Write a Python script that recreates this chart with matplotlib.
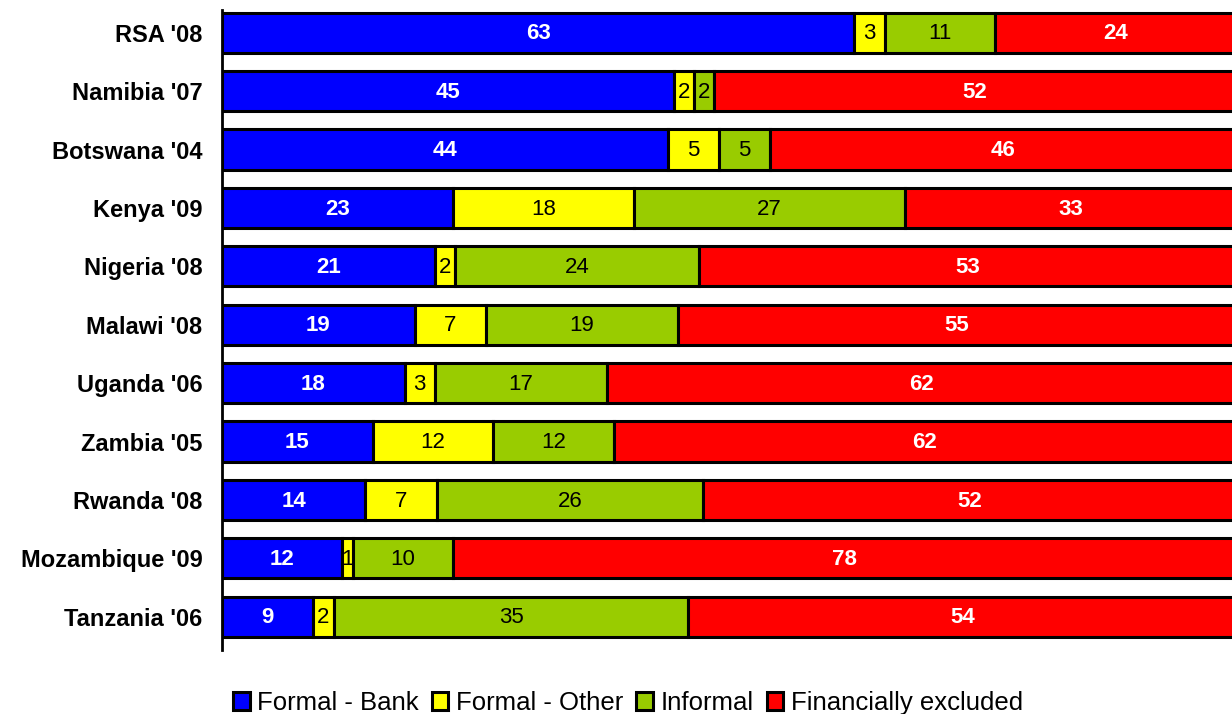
import numpy as np
import matplotlib.pyplot as plt

plt.rcParams['font.family'] = ['Liberation Sans', 'DejaVu Sans']

countries = ["RSA '08", "Namibia '07", "Botswana '04", "Kenya '09", "Nigeria '08",
             "Malawi '08", "Uganda '06", "Zambia '05", "Rwanda '08",
             "Mozambique '09", "Tanzania '06"]
formal_bank = [63, 45, 44, 23, 21, 19, 18, 15, 14, 12, 9]
formal_other = [3, 2, 5, 18, 2, 7, 3, 12, 7, 1, 2]
informal = [11, 2, 5, 27, 24, 19, 17, 12, 26, 10, 35]
excluded = [24, 52, 46, 33, 53, 55, 62, 62, 52, 78, 54]

series = [
    ("Formal - Bank", formal_bank, "#0000ff", "white", "bold"),
    ("Formal - Other", formal_other, "#ffff00", "black", "normal"),
    ("Informal", informal, "#99cc00", "black", "normal"),
    ("Financially excluded", excluded, "#ff0000", "white", "bold"),
]

# 100% stacked: each row scaled to its own total
totals = np.array(formal_bank) + np.array(formal_other) + np.array(informal) + np.array(excluded)

fig = plt.figure(figsize=(12.32, 7.14), dpi=100)
ax = fig.add_axes([222 / 1232, 1 - 650 / 714, 1014 / 1232, 640 / 714])

y = np.arange(len(countries))
left = np.zeros(len(countries))
for name, vals, col, tcol, weight in series:
    vals = np.array(vals, dtype=float)
    share = vals / totals
    ax.barh(y, share, left=left, height=0.69, color=col,
            edgecolor="black", linewidth=2.2, label=name)
    for yi, l, s, v in zip(y, left, share, vals):
        ax.text(l + s / 2, yi + 0.02, f"{int(v)}", ha="center", va="center",
                color=tcol, fontsize=16, fontweight=weight)
    left += share

ax.set_xlim(0, 1)
ax.set_ylim(10.57, -0.39)
ax.set_yticks(y)
ax.set_yticklabels(countries, fontsize=17, fontweight="bold")
ax.tick_params(axis="y", length=0, pad=14)
ax.set_xticks([])
for s in ["top", "right", "bottom"]:
    ax.spines[s].set_visible(False)
ax.spines["left"].set_linewidth(2)

fig.legend(loc="center", bbox_to_anchor=(628 / 1232, 1 - 703 / 714), ncol=4,
           frameon=False, fontsize=18.5, handlelength=0.65, handleheight=0.65,
           handletextpad=0.3, columnspacing=0.5, borderpad=0)

fig.savefig("out.png", dpi=100)
